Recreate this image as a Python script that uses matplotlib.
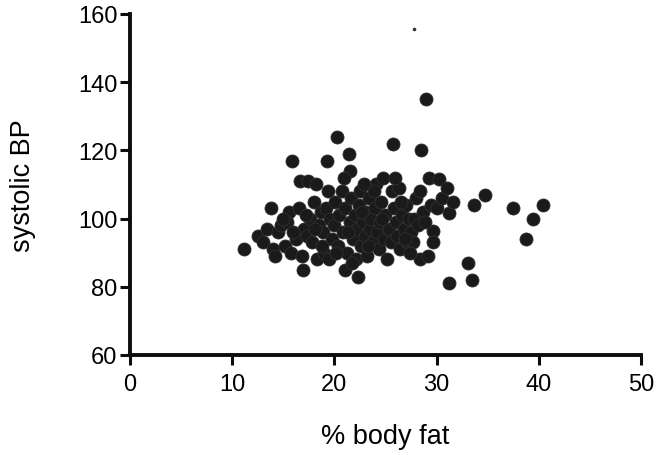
import matplotlib
matplotlib.use("Agg")
import matplotlib.pyplot as plt

body_fat = [11.2, 12.5, 13.0, 13.4, 13.8, 14.0, 14.2, 14.5, 14.8, 15.2, 15.6, 15.9, 15.4, 15.8,
            16.2, 16.6, 16.8, 16.9, 16.5, 17.0, 17.3, 17.4, 17.6, 17.8, 18.0, 18.2, 18.3, 18.5,
            18.7, 18.9, 19.0, 19.2, 19.3, 19.5, 19.6, 19.8, 20.0, 20.1, 20.3, 20.4, 20.5, 20.7,
            20.8, 21.0, 21.0, 21.2, 21.4, 21.5, 21.5, 21.6, 21.8, 22.0, 22.1, 22.2, 22.3, 22.4,
            22.5, 22.6, 22.8, 23.0, 23.1, 23.2, 23.4, 23.5, 23.6, 23.8, 24.0, 24.1, 24.2, 24.4,
            24.5, 24.6, 24.8, 24.9, 25.0, 25.2, 25.3, 25.5, 25.6, 25.7, 25.8, 26.0, 26.1, 26.3,
            26.4, 26.6, 26.8, 27.0, 27.1, 27.3, 27.5, 27.7, 27.8, 28.0, 28.2, 28.4, 28.4, 28.5,
            28.7, 29.0, 29.2, 29.3, 29.5, 29.7, 29.7, 30.0, 30.2, 30.5, 31.0, 31.2, 31.2, 31.6,
            33.1, 33.5, 33.7, 34.7, 37.5, 38.8, 39.4, 40.4,
            17.2, 18.1, 19.4, 20.2, 20.9, 21.3, 22.7, 23.3, 24.7, 26.5, 27.4, 28.9, 15.0, 16.0,
            21.7, 25.9, 23.9, 22.9, 18.8, 26.9]
systolic = [91, 95, 93, 97, 103, 91, 89, 96, 98, 92, 102, 117, 99, 90,
            94, 111, 89, 85, 103, 97, 95, 111, 100, 93, 105, 110, 88, 98,
            102, 96, 90, 103, 117, 88, 100, 94, 98, 105, 124, 92, 101, 108,
            96, 85, 103, 90, 119, 114, 99, 106, 94, 101, 88, 97, 83, 104,
            108, 92, 99, 95, 102, 89, 106, 97, 100, 93, 103, 110, 96, 91,
            99, 105, 112, 94, 101, 88, 97, 93, 108, 122, 103, 99, 95, 109,
            91, 101, 97, 104, 93, 100, 96, 93, 100, 106, 98, 108, 88, 120,
            102, 135, 89, 112, 104, 96.5, 93, 103, 111.5, 106, 109, 101.5, 81, 105,
            87, 82, 104, 107, 103, 94, 100, 104,
            101, 97, 108, 90, 112, 96, 102, 92, 100, 105, 90, 99, 100, 96,
            87, 112, 108, 110, 92, 94]

# small speck visible near the top of the plot
speck_x = [27.75]
speck_y = [155.6]

x_ticks = [0, 10, 20, 30, 40, 50]
y_ticks = [60, 80, 100, 120, 140, 160]

plt.rcParams['font.family'] = ['Liberation Sans', 'DejaVu Sans']

fig = plt.figure(figsize=(6.6, 4.56), dpi=100)
ax = fig.add_axes([0.197, 0.2193, 0.774, 0.748])
ax.scatter(body_fat, systolic, s=88, color='#1a1a1a', edgecolors='#303030', linewidths=0.6,
           zorder=3, clip_on=False)
ax.scatter(speck_x, speck_y, s=2.5, color='#333333', zorder=3)

ax.set_xlim(0, 50)
ax.set_ylim(60, 160)
ax.set_xticks(x_ticks)
ax.set_yticks(y_ticks)
for s in ['top', 'right']:
    ax.spines[s].set_visible(False)
for s in ['left', 'bottom']:
    ax.spines[s].set_linewidth(2.8)
    ax.spines[s].set_color('#0d0d0d')
    ax.spines[s].set_capstyle('projecting')
ax.tick_params(axis='both', direction='out', length=7, width=2.2, color='#0d0d0d',
               labelsize=17, labelcolor='#000000')
ax.tick_params(axis='x', pad=6)
ax.tick_params(axis='y', pad=2)
ax.set_xlabel('% body fat', fontsize=19.5, color='#000000', labelpad=20)
ax.set_ylabel('systolic BP', fontsize=19.5, color='#000000', labelpad=30)

fig.savefig('out.png', dpi=100)
